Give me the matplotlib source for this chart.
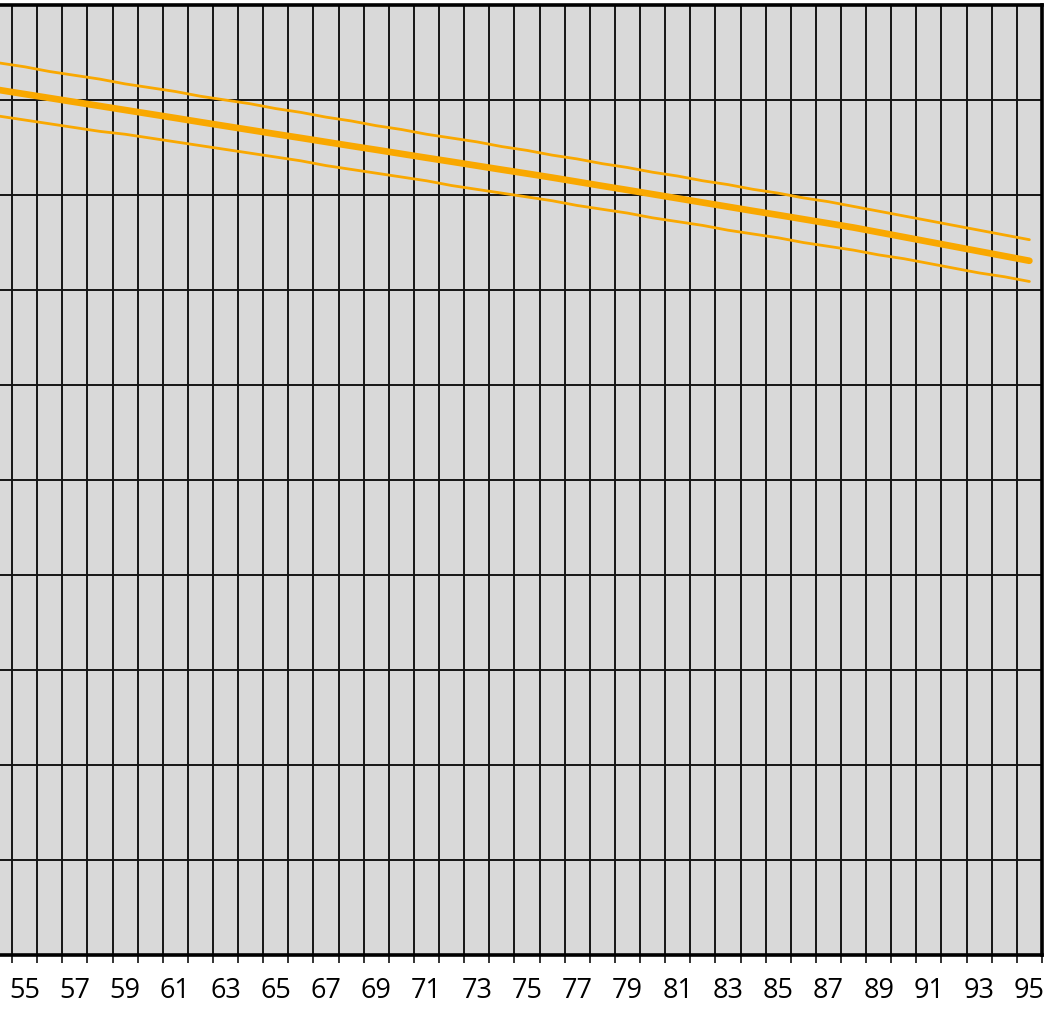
import numpy as np
import matplotlib
matplotlib.use("Agg")
import matplotlib.pyplot as plt

# categories (one per column of the grid), only odd ones get a label
years = list(range(54, 96))

# centre line and the two band lines
mid = [91.05, 90.63, 90.21, 89.79, 89.37, 88.95, 88.53, 88.11, 87.68, 87.26,
       86.84, 86.42, 86.01, 85.59, 85.17, 84.76, 84.34, 83.92, 83.51, 83.09,
       82.67, 82.26, 81.84, 81.40, 80.96, 80.53, 80.09, 79.65, 79.21, 78.77,
       78.33, 77.90, 77.46, 77.02, 76.58, 76.08, 75.58, 75.08, 74.58, 74.08,
       73.58, 73.08]
upper = [93.9, 93.5, 93.0, 92.6, 92.2, 91.7, 91.3, 90.9, 90.4, 90.0,
         89.6, 89.1, 88.7, 88.2, 87.8, 87.3, 86.9, 86.4, 86.0, 85.6,
         85.1, 84.7, 84.2, 83.8, 83.3, 82.9, 82.4, 82.0, 81.5, 81.1,
         80.6, 80.2, 79.7, 79.3, 78.8, 78.3, 77.8, 77.3, 76.8, 76.3,
         75.8, 75.3]
lower = [88.3, 87.9, 87.5, 87.1, 86.7, 86.4, 86.0, 85.6, 85.2, 84.8,
         84.4, 84.0, 83.6, 83.1, 82.7, 82.3, 81.9, 81.5, 81.0, 80.6,
         80.2, 79.8, 79.4, 78.9, 78.5, 78.1, 77.6, 77.2, 76.8, 76.3,
         75.9, 75.5, 75.0, 74.6, 74.2, 73.7, 73.3, 72.8, 72.3, 71.8,
         71.4, 70.9]
label_years = list(range(55, 96, 2))

plt.rcParams['font.family'] = ['Open Sans', 'DejaVu Sans']

fig = plt.figure(figsize=(10.56, 10.09), dpi=100)
ax = fig.add_axes([0.0, 0.0535, 0.9867, 0.9415])
ax.set_facecolor("#d9d9d9")

orange = "#f9a800"
ax.plot(years, upper, color=orange, lw=2.0, solid_capstyle='round', zorder=3)
ax.plot(years, lower, color=orange, lw=2.0, solid_capstyle='round', zorder=3)
ax.plot(years, mid, color=orange, lw=4.8, solid_capstyle='round', zorder=4)

ax.set_xlim(54.02, 95.5)
ax.set_ylim(0, 100)

# grid lines sit on the category boundaries
bounds = [y - 0.5 for y in years[1:]] + [95.5]
ax.set_xticks(bounds)
ax.set_xticklabels([])
ax.set_xticks(label_years, minor=True)
ax.set_xticklabels([str(v) for v in label_years], minor=True, fontsize=19.5)
ax.tick_params(axis='x', which='major', length=6, width=1.2, color='#111111')
ax.tick_params(axis='x', which='minor', length=0, pad=16)
ax.set_yticks(range(0, 101, 10))
ax.set_yticklabels([])
ax.tick_params(axis='y', length=0)

ax.grid(True, which='major', color='#151515', lw=1.4)
ax.set_axisbelow(True)

for side in ['top', 'right', 'bottom']:
    ax.spines[side].set_linewidth(2.6)
    ax.spines[side].set_color('black')
ax.spines['left'].set_visible(False)

fig.savefig("out.png", dpi=100)
